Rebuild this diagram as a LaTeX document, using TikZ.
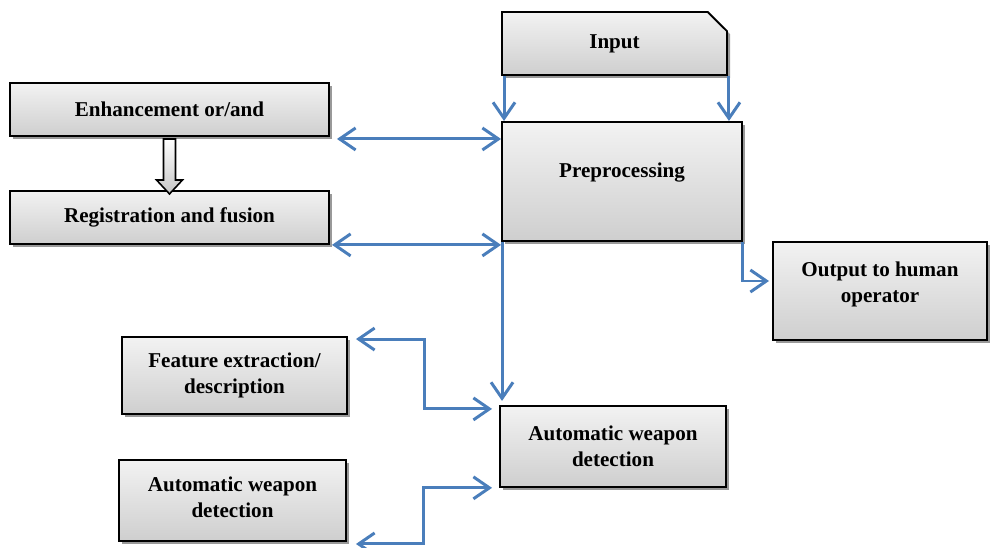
\documentclass[tikz,border=0pt]{standalone}
\usepackage{fontspec}
\setmainfont{Liberation Serif}
\usetikzlibrary{positioning, arrows.meta, shapes.misc, shadows}
\definecolor{flowblue}{HTML}{4A7EBB}

\begin{document}
\begin{tikzpicture}[x=0.2mm,y=-0.2mm,
		stepbox/.style={rectangle,draw=black,line width=1.1pt,top color=gray!10,bottom color=gray!38,
			drop shadow={shadow xshift=0.6mm,shadow yshift=-0.6mm,fill=black!40,opacity=1},
			font=\fontsize{12}{14.6}\selectfont\bfseries,align=center,inner sep=0pt},
		inbox/.style={chamfered rectangle,chamfered rectangle corners=north east,
			chamfered rectangle xsep=2mm,chamfered rectangle ysep=2mm},
		flow/.style={draw=flowblue,line width=1.7pt,-{Straight Barb[length=3.2mm,width=4.4mm]}},
		dflow/.style={flow,{Straight Barb[length=3.2mm,width=4.4mm]}-{Straight Barb[length=3.2mm,width=4.4mm]}}]
		\useasboundingbox (0,0) rectangle (990,548);

		\node[stepbox,inbox,minimum width=45mm,minimum height=12.6mm]						(inp)	at (614.5,43.5)	{Input};
		\node[stepbox,minimum width=48mm,minimum height=23.8mm,text depth=4.4mm,
			below=9mm of inp.south west,anchor=north west]									(pre)	{Preprocessing};
		\node[stepbox,minimum width=63.8mm,minimum height=10.6mm]						(enh)	at (169.5,109.5)	{Enhancement or/and};
		\node[stepbox,minimum width=63.8mm,minimum height=10.6mm,below=10.6mm of enh]	(reg)	{Registration and fusion};
		\node[stepbox,minimum width=42.8mm,minimum height=19.6mm,text depth=3.6mm]		(out)	at (880,291)	{Output to human\\operator};
		\node[stepbox,minimum width=45.2mm,minimum height=16.2mm,
			below=32.6mm of pre.south west,anchor=north west,xshift=-0.4mm]				(awd)	{Automatic weapon\\detection};
		\node[stepbox,minimum width=45mm,minimum height=15.4mm]							(feat)	at (234.5,375.5)	{Feature extraction/\\description};
		\node[stepbox,minimum width=45.4mm,minimum height=16.2mm,text depth=1.2mm]		(awdl)	at (232.5,500.5)	{Automatic weapon\\detection};

		% hollow arrow between the two left boxes
		\draw[line width=0.9pt,top color=white,bottom color=gray!45]
			([shift={(-1.2mm,-0.4mm)}]enh.south) -- ++(0,-8.2mm) -- ++(-1.4mm,0) -- ++(2.6mm,-2.8mm)
			-- ++(2.6mm,2.8mm) -- ++(-1.4mm,0) -- ++(0,8.2mm) -- cycle;

		\coordinate (e1) at ([shift={(1.4mm,-0.4mm)}]enh.south east);
		\coordinate (r1) at ([xshift=0.4mm]reg.south east);
		\coordinate (o1) at ([shift={(-0.6mm,2mm)}]out.west);
		\coordinate (a0) at ([xshift=0.2mm]pre.south west);
		\coordinate (f1) at ([shift={(1.6mm,-0.6mm)}]feat.north east);
		\coordinate (a1) at ([shift={(-1.4mm,-0.8mm)}]awd.north west);
		\coordinate (a2) at ([xshift=-1.4mm]awd.south west);
		\coordinate (l1) at ([shift={(1.8mm,-0.4mm)}]awdl.south east);

		\draw[flow] ([xshift=0.6mm]inp.south west) -- ([xshift=0.6mm]pre.north west);
		\draw[flow] ([xshift=0.2mm]inp.south east) -- ([xshift=0.2mm]inp.south east |- pre.north);
		\draw[dflow] (e1) -- (e1 -| pre.west);
		\draw[dflow] (r1) -- (r1 -| pre.west);
		\draw[flow] (pre.south east) |- (o1);
		\draw[flow] (a0) -- ([yshift=0.8mm]a0 |- awd.north);
		\draw[dflow] (f1) -- ++(13.8mm,0) |- (a1);
		\draw[dflow] (a2) -- ++(-13.8mm,0) |- (l1);
	\end{tikzpicture}
\end{document}
